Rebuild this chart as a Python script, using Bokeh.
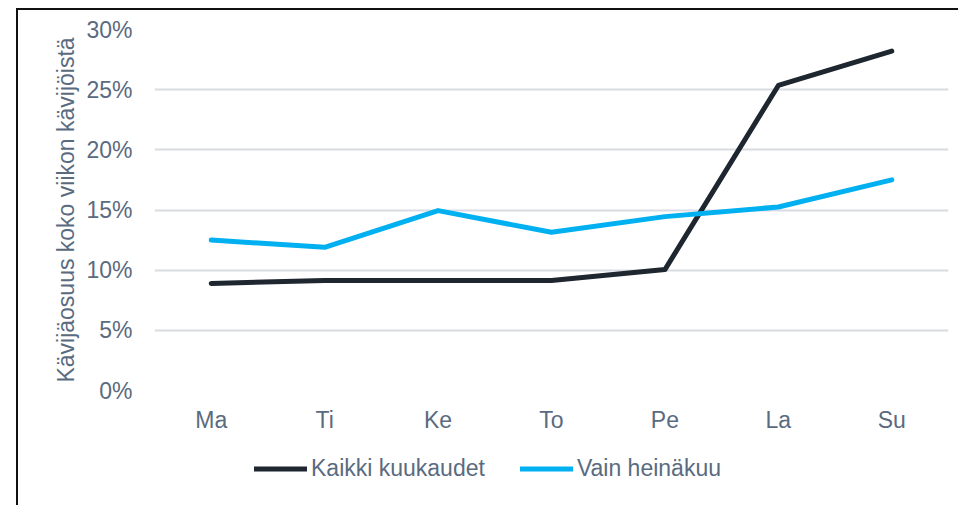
from bokeh.plotting import figure
from bokeh.layouts import column
from bokeh.models import NumeralTickFormatter, Legend, LegendItem, FixedTicker
from bokeh.embed import file_html
from bokeh.resources import INLINE

days = ["Ma", "Ti", "Ke", "To", "Pe", "La", "Su"]
kaikki = [0.089, 0.0915, 0.0915, 0.0915, 0.1005, 0.2535, 0.282]
heinakuu = [0.125, 0.119, 0.1495, 0.1315, 0.1445, 0.1525, 0.175]
y_ticks = [0, 0.05, 0.10, 0.15, 0.20, 0.25, 0.30]
series_names = ["Kaikki kuukaudet", "Vain heinäkuu"]

FONT = "Liberation Sans"
TXT = "#5a6b80"
C1 = "#1e2630"
C2 = "#00b0f0"

p = figure(x_range=days, y_range=(0, 0.30), width=940, height=425,
           output_backend="svg", toolbar_location=None,
           min_border_left=136, min_border_right=10, min_border_top=19,
           min_border_bottom=44)
p.outline_line_color = None
p.border_fill_color = "white"

p.xgrid.grid_line_color = None
p.ygrid.grid_line_color = "#d8dce2"
p.ygrid.grid_line_width = 2

p.yaxis.ticker = FixedTicker(ticks=y_ticks)
p.yaxis.formatter = NumeralTickFormatter(format="0%")
for ax in (p.xaxis[0], p.yaxis[0]):
    ax.axis_line_color = None
    ax.major_tick_line_color = None
    ax.minor_tick_line_color = None
    ax.major_label_text_font = FONT
    ax.major_label_text_font_size = "23px"
    ax.major_label_text_color = TXT
p.yaxis.major_label_standoff = 16
p.xaxis.major_label_standoff = 10
p.yaxis.axis_label = "Kävijäosuus koko viikon kävijöistä"
p.yaxis.axis_label_text_font = FONT
p.yaxis.axis_label_text_font_size = "23px"
p.yaxis.axis_label_text_font_style = "normal"
p.yaxis.axis_label_text_color = TXT
p.yaxis.axis_label_standoff = 4

p.line(days, kaikki, line_color=C1, line_width=5,
       line_cap="round", line_join="round")
p.line(days, heinakuu, line_color=C2, line_width=5,
       line_cap="round", line_join="round")

# legend strip below the chart
lf = figure(x_range=days, y_range=(-10, -9), width=940, height=70,
            output_backend="svg", toolbar_location=None,
            min_border_left=0, min_border_right=0, min_border_top=0,
            min_border_bottom=0)
lf.axis.visible = False
lf.grid.visible = False
lf.outline_line_color = None
lr1 = lf.line(days, kaikki, line_color=C1, line_width=5, line_cap="round")
lr2 = lf.line(days, heinakuu, line_color=C2, line_width=5, line_cap="round")

legend = Legend(items=[LegendItem(label=series_names[0], renderers=[lr1]),
                       LegendItem(label=series_names[1], renderers=[lr2])],
                orientation="horizontal", location=(100, 23),
                spacing=35, padding=0, margin=0, glyph_width=53,
                glyph_height=23, label_height=23, label_standoff=4,
                label_text_font=FONT, label_text_font_size="23px",
                label_text_color=TXT, border_line_color=None,
                background_fill_alpha=0)
lf.add_layout(legend, "center")

layout = column(p, lf, spacing=0)
layout.margin = (8, 0, 0, 16)
layout.styles = {"border-top": "2px solid #111", "border-left": "2px solid #111"}

open("out.html", "w").write(file_html(layout, INLINE))
